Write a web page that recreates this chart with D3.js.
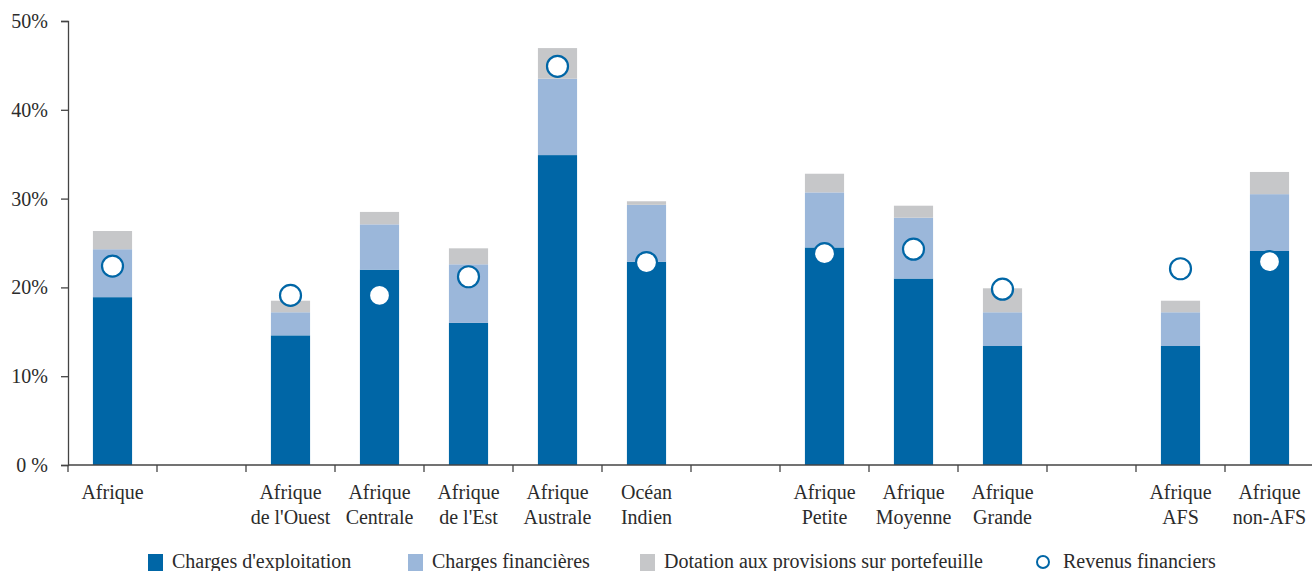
<!DOCTYPE html>
<html><head><meta charset="utf-8">
<script src="https://cdn.jsdelivr.net/npm/d3@7"></script>
<style>body{margin:0;background:#fff}svg{display:block}</style>
</head><body><svg id="c" width="1312" height="571" style="font-family:'Liberation Serif', serif"></svg>
<script>
const categories = [
  ["Afrique"], [""], ["Afrique","de l'Ouest"], ["Afrique","Centrale"], ["Afrique","de l'Est"],
  ["Afrique","Australe"], ["Océan","Indien"], [""], ["Afrique","Petite"], ["Afrique","Moyenne"],
  ["Afrique","Grande"], [""], ["Afrique","AFS"], ["Afrique","non-AFS"]
];
const chargesExploitation = [18.9, null, 14.6, 22.0, 16.0, 34.9, 22.9, null, 24.5, 21.0, 13.4, null, 13.4, 24.1];
const chargesFinancieres  = [5.4,  null, 2.6,  5.1,  6.6,  8.6,  6.4,  null, 6.2,  6.85, 3.8,  null, 3.8,  6.4];
const dotationProvisions  = [2.05, null, 1.3,  1.4,  1.8,  3.45, 0.4,  null, 2.1,  1.35, 2.7,  null, 1.3,  2.5];
const revenusFinanciers   = [22.4, null, 19.1, 19.1, 21.2, 44.9, 22.8, null, 23.8, 24.3, 19.8, null, 22.1, 22.9];
const yTicks = [0, 10, 20, 30, 40, 50];
const seriesNames = ["Charges d'exploitation", "Charges financières", "Dotation aux provisions sur portefeuille", "Revenus financiers"];
const colors = ["#0066a6", "#9bb7da", "#c6c7c9"];

const FONT = "'Liberation Serif', 'DejaVu Serif', serif";
const TXT = "#2b2b2b";
const svg = d3.select("#c");
const x = d3.scaleBand().domain(d3.range(categories.length)).range([68, 1314]).paddingInner(0).paddingOuter(0);
const y = d3.scaleLinear().domain([0, 50]).range([465, 21]);
const bw = x.bandwidth() * 0.44;

// bars
const stacks = [chargesExploitation, chargesFinancieres, dotationProvisions];
categories.forEach((c, i) => {
  if (chargesExploitation[i] == null) return;
  let base = 0;
  stacks.forEach((s, k) => {
    const v = s[i];
    svg.append("rect")
      .attr("x", x(i) + (x.bandwidth() - bw) / 2)
      .attr("width", bw)
      .attr("y", y(base + v))
      .attr("height", y(base) - y(base + v))
      .attr("fill", colors[k]);
    base += v;
  });
});

// axes
const yAxis = svg.append("g").attr("transform", "translate(68,0)")
  .call(d3.axisLeft(y).tickValues(yTicks).tickSize(7).tickPadding(13).tickFormat(d => d === 0 ? "0 %" : d + "%"));
yAxis.attr("font-family", null).attr("font-size", null);
yAxis.select(".domain").attr("stroke", "#444").attr("stroke-width", 1.3);
yAxis.selectAll(".tick line").attr("stroke", "#444").attr("stroke-width", 1.3);
yAxis.selectAll("text").style("font-family", FONT).style("font-size", "20px").attr("fill", TXT);

const xAxisG = svg.append("g").attr("transform", "translate(0,465)");
xAxisG.append("line").attr("x1", 68).attr("x2", 1312).attr("stroke", "#444").attr("stroke-width", 1.3);
const bounds = d3.range(categories.length + 1).map(i => i < categories.length ? x(i) : x(categories.length - 1) + x.bandwidth());
bounds.forEach(b => {
  if (b > 1312) return;
  xAxisG.append("line").attr("x1", b).attr("x2", b).attr("y1", 0).attr("y2", 7).attr("stroke", "#444").attr("stroke-width", 1.3);
});
categories.forEach((c, i) => {
  const t = svg.append("text").attr("x", x(i) + x.bandwidth() / 2).attr("y", 499)
    .attr("text-anchor", "middle").style("font-family", FONT).style("font-size", "20px").attr("fill", TXT);
  c.forEach((line, j) => t.append("tspan").attr("x", x(i) + x.bandwidth() / 2).attr("dy", j === 0 ? 0 : 25).text(line));
});

// points
categories.forEach((c, i) => {
  if (revenusFinanciers[i] == null) return;
  svg.append("circle")
    .attr("cx", x(i) + x.bandwidth() / 2)
    .attr("cy", y(revenusFinanciers[i]))
    .attr("r", 10.5)
    .attr("fill", "#fff")
    .attr("stroke", "#0066a6")
    .attr("stroke-width", 2.2);
});

// legend
const legX = [148, 408, 640];
const lg = svg.append("g");
[0, 1, 2].forEach(k => {
  lg.append("rect").attr("x", legX[k]).attr("y", 554).attr("width", 15).attr("height", 17).attr("fill", colors[k]);
  lg.append("text").attr("x", legX[k] + 24).attr("y", 568).style("font-family", FONT).style("font-size", "20px").attr("fill", TXT).text(seriesNames[k]);
});
lg.append("circle").attr("cx", 1043).attr("cy", 562).attr("r", 6).attr("fill", "#fff").attr("stroke", "#0066a6").attr("stroke-width", 2);
lg.append("text").attr("x", 1063).attr("y", 568).style("font-family", FONT).style("font-size", "20px").attr("fill", TXT).text(seriesNames[3]);
</script></body></html>
